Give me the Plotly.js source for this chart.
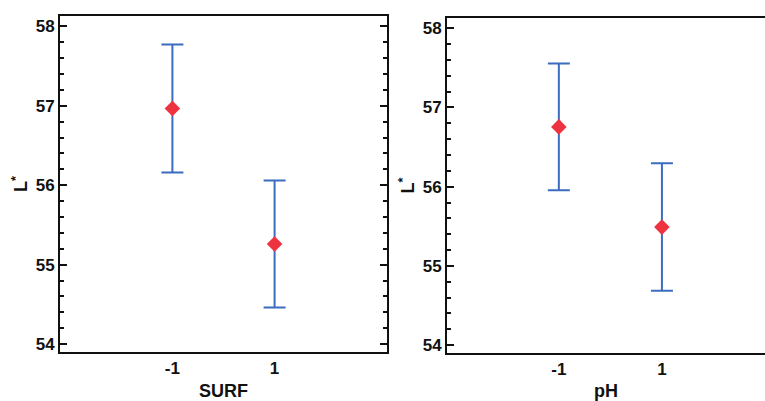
<!DOCTYPE html>
<html>
<head>
<meta charset="utf-8">
<script src="https://cdn.plot.ly/plotly-3.0.1.min.js"></script>
<style>html,body{margin:0;padding:0;background:#fff;}#chart{width:765px;height:401px;}</style>
</head>
<body>
<div id="chart"></div>
<script>
// Data
const levels = [-1, 1];
const levelLabels = ['-1', '1'];
const surfMeans = [56.965, 55.26];
const surfErr = [0.805, 0.80];
const phMeans = [56.755, 55.49];
const phErr = [0.80, 0.805];
const yTicks = [54, 55, 56, 57, 58];

const FONT = 'Arial, "Liberation Sans", sans-serif';
const barColor = '#3b6cc0';
const markColor = '#ee3340';

function trace(means, err, xa, ya) {
  return {
    type: 'scatter', mode: 'markers', x: levels, y: means, xaxis: xa, yaxis: ya,
    marker: {symbol: 'diamond', size: 12, color: markColor},
    error_y: {type: 'data', array: err, visible: true, thickness: 2, width: 11, color: barColor},
    showlegend: false, hoverinfo: 'skip'
  };
}

const tickFont = {family: FONT, size: 17, color: '#111'};
const titleFont = {family: FONT, size: 18, color: '#111'};
const b = s => '<b>' + s + '</b>';

function yax(domain, mirror) {
  return {
    domain: domain, range: [53.9, 58.13], tickvals: yTicks, ticktext: yTicks.map(v => b(String(v))),
    ticks: 'inside', ticklen: 7, tickwidth: 2, tickcolor: '#111',
    minor: {dtick: 0.2, ticks: 'inside', ticklen: 4, tickwidth: 2, tickcolor: '#111'},
    showline: true, linewidth: 2, linecolor: '#111', mirror: mirror,
    showgrid: false, zeroline: false, tickfont: tickFont,
    title: {text: b('L<sup>*</sup>'), font: titleFont, standoff: 3}
  };
}
function xax(domain, range, anchor, title) {
  return {
    domain: domain, range: range, anchor: anchor, tickvals: levels, ticktext: levelLabels.map(b),
    ticks: '', showline: true, linewidth: 2, linecolor: '#111', mirror: true,
    showgrid: false, zeroline: false, tickfont: tickFont,
    title: {text: b(title), font: titleFont, standoff: 7}
  };
}

const layout = {
  width: 765, height: 401,
  margin: {l: 0, r: 0, t: 0, b: 0},
  paper_bgcolor: '#fff', plot_bgcolor: '#fff',
  xaxis: xax([60/765, 387/765], [-3.2, 3.2], 'y', 'SURF'),
  yaxis: Object.assign(yax([49/401, 385/401], 'ticks'), {anchor: 'x'}),
  xaxis2: xax([447/765, 1], [-3.17, 3.0], 'y2', 'pH'),
  yaxis2: Object.assign(yax([48/401, 383/401], false), {anchor: 'x2'})
};

Plotly.newPlot('chart', [trace(surfMeans, surfErr, 'x', 'y'), trace(phMeans, phErr, 'x2', 'y2')], layout, {staticPlot: true, displayModeBar: false});
</script>
</body>
</html>
